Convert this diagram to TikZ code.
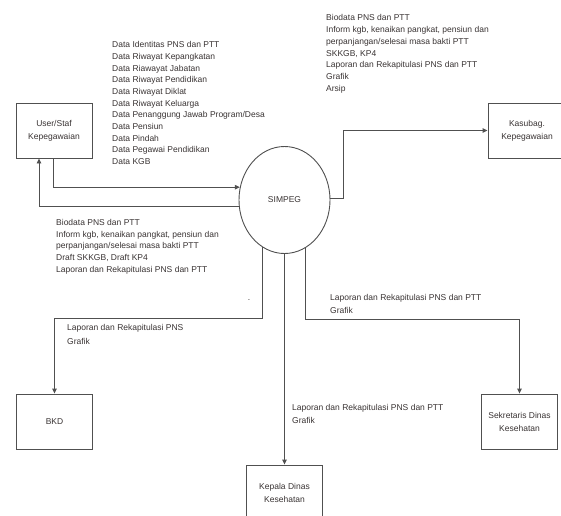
\documentclass[tikz,border=0pt]{standalone}
\usepackage{fontspec}
\setmainfont{Liberation Sans}
\usetikzlibrary{shapes.geometric,arrows.meta}
\definecolor{txt}{HTML}{3A3434}
\definecolor{ln}{HTML}{505050}
\begin{document}
\begin{tikzpicture}[x=1pt,y=-1pt,
  ent/.style={draw=ln,line width=0.9pt,minimum width=76pt,minimum height=55pt,inner sep=0pt,align=center,font=\fontsize{8.5}{13}\selectfont,text=txt},
  flow/.style={draw=ln,line width=0.9pt,-{Triangle[length=5pt,width=4.5pt]}},
  lbl/.style={anchor=north west,inner sep=0pt,align=left,font=\fontsize{8.5}{11.7}\selectfont,text=txt},
  lbltwo/.style={lbl,font=\fontsize{8.5}{13.3}\selectfont}]
\clip (0,0) rectangle (561,515);
\fill[white] (0,0) rectangle (561,515);
% entities
\node[ent] (user) at (54,130.5) {User/Staf\\Kepegawaian};
\node[ent,minimum width=78pt] (kasubag) at (527,130.5) {Kasubag.\\Kepegawaian};
\node[ent] (bkd) at (54.5,421.5) {BKD};
\node[ent] (sek) at (519.5,421.5) {Sekretaris Dinas\\Kesehatan};
\node[ent] (kep) at (284.5,492.5) {Kepala Dinas\\Kesehatan};
\node[draw=ln,line width=0.9pt,ellipse,minimum width=91pt,minimum height=107pt,inner sep=0pt,font=\fontsize{8.5}{13}\selectfont,text=txt] (simpeg) at (284.5,200) {SIMPEG};
% connectors
\draw[flow] ([xshift=-1pt]user.south) |- (simpeg.164.86);
\draw[flow] (simpeg.188.8) -| ([xshift=-15pt]user.south);
\draw[flow] (simpeg.2) -- ++(13,0) |- (kasubag.west);
\draw[flow] (simpeg.245.5) -- ++(0,71) -| (bkd.north);
\draw[flow] (simpeg.south) -- (kep.north);
\draw[flow] (simpeg.294.5) -- ++(0,72) -| (sek.north);
% labels
\node[lbl] (datain) at (112,41.3) {Data Identitas PNS dan PTT\\Data Riwayat Kepangkatan\\Data Riawayat Jabatan\\Data Riwayat Pendidikan\\Data Riwayat Diklat\\Data Riwayat Keluarga\\Data Penanggung Jawab Program/Desa\\Data Pensiun\\Data Pindah\\Data Pegawai Pendidikan\\Data KGB};
\node[lbl] (kasout) at (326,14.6) {Biodata PNS dan PTT\\Inform kgb, kenaikan pangkat, pensiun dan\\perpanjangan/selesai masa bakti PTT\\SKKGB, KP4\\Laporan dan Rekapitulasi PNS dan PTT\\Grafik\\Arsip};
\node[lbl] (userout) at (56,219) {Biodata PNS dan PTT\\Inform kgb, kenaikan pangkat, pensiun dan\\perpanjangan/selesai masa bakti PTT\\Draft SKKGB, Draft KP4\\Laporan dan Rekapitulasi PNS dan PTT};
\node[lbltwo] (bkdout) at (67,324.6) {Laporan dan Rekapitulasi PNS\\Grafik};
\node[lbltwo] (sekout) at (330,294.3) {Laporan dan Rekapitulasi PNS dan PTT\\Grafik};
\node[lbltwo] (kepout) at (292,404.3) {Laporan dan Rekapitulasi PNS dan PTT\\Grafik};
\node[inner sep=0pt,anchor=base,font=\fontsize{8.5}{11.7}\selectfont,text=txt] (dot) at (249,300.5) {.};
\end{tikzpicture}
\end{document}
